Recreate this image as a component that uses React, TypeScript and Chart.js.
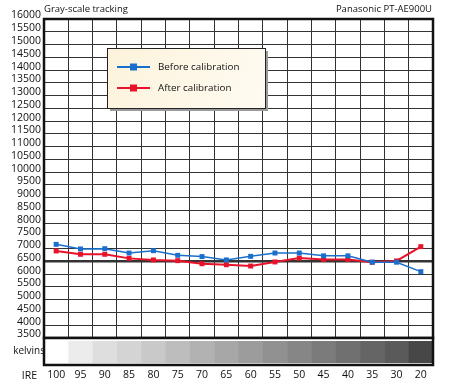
import React, { useEffect, useRef } from "react";
import { Chart, registerables } from "chart.js";
Chart.register(...registerables);

const categories = ["100", "95", "90", "85", "80", "75", "70", "65", "60", "55", "50", "45", "40", "35", "30", "20"];
const beforeValues = [7170, 6990, 7000, 6830, 6920, 6740, 6690, 6560, 6700, 6830, 6830, 6720, 6720, 6470, 6470, 6100];
const afterValues = [6910, 6780, 6780, 6620, 6560, 6530, 6410, 6370, 6320, 6480, 6630, 6580, 6580, 6470, 6520, 7080];
const yMin = 3500;
const yMax = 16000;
const yStep = 500;
const referenceValue = 6500;
const bandShades = ["#ffffff", "#ececec", "#dedede", "#d4d4d4", "#c9c9c9", "#bdbdbd", "#b2b2b2", "#a7a7a7", "#9c9c9c", "#919191", "#868686", "#7b7b7b", "#707070", "#656565", "#5a5a5a", "#474747"];
const titleLeft = "Gray-scale tracking";
const titleRight = "Panasonic PT-AE900U";
const bandLabel = "kelvins";
const axisLabel = "IRE";

const FONT = "'Open Sans', 'Liberation Sans', sans-serif";

const decorPlugin = {
  id: "decor",
  afterDraw(chart: any) {
    const { ctx, chartArea } = chart;
    const { left, right, top, bottom } = chartArea;
    ctx.save();
    ctx.strokeStyle = "#111";
    ctx.lineWidth = 2.5;
    ctx.strokeRect(left, top, right - left, bottom - top);
    const bTop = bottom;
    const bBot = bottom + 27;
    const n = categories.length;
    const cw = (right - left) / n;
    ctx.fillStyle = "#fff";
    ctx.fillRect(left, bTop, right - left, bBot - bTop);
    for (let i = 0; i < n; i++) {
      ctx.fillStyle = bandShades[i];
      ctx.fillRect(left + i * cw, bTop + 3, cw + 0.5, bBot - bTop - 5);
    }
    ctx.strokeStyle = "#111";
    ctx.lineWidth = 2.5;
    ctx.strokeRect(left, bTop, right - left, bBot - bTop);
    ctx.fillStyle = "#111";
    ctx.font = `10px ${FONT}`;
    ctx.textBaseline = "middle";
    ctx.textAlign = "right";
    ctx.fillText(bandLabel, left + 1, (bTop + bBot) / 2);
    ctx.font = `10.5px ${FONT}`;
    ctx.fillText(axisLabel, 37, 376);
    ctx.font = `9.5px ${FONT}`;
    ctx.textAlign = "left";
    ctx.fillText(titleLeft, left, 9);
    ctx.textAlign = "right";
    ctx.fillText(titleRight, right - 1, 9);
    const lx = 107, ly = 48, lw = 158, lh = 60;
    ctx.fillStyle = "#9a9a9a";
    ctx.fillRect(lx + 3, ly + 3, lw, lh);
    const g = ctx.createLinearGradient(lx, ly, lx + lw, ly + lh);
    g.addColorStop(0, "#fdf3dc");
    g.addColorStop(1, "#fffbf2");
    ctx.fillStyle = g;
    ctx.fillRect(lx, ly, lw, lh);
    ctx.strokeStyle = "#222";
    ctx.lineWidth = 1;
    ctx.strokeRect(lx + 0.5, ly + 0.5, lw, lh);
    chart.data.datasets.forEach((ds: any, i: number) => {
      const yy = 67 + i * 21;
      ctx.strokeStyle = ds.borderColor;
      ctx.lineWidth = 2;
      ctx.beginPath();
      ctx.moveTo(117, yy);
      ctx.lineTo(150, yy);
      ctx.stroke();
      ctx.fillStyle = ds.backgroundColor;
      ctx.fillRect(130, yy - 3.5, 7, 7);
      ctx.fillStyle = "#111";
      ctx.textAlign = "left";
      ctx.font = `9.8px ${FONT}`;
      ctx.fillText(ds.label, 158, yy);
    });
    ctx.restore();
  },
};

export default function App() {
  const ref = useRef<HTMLCanvasElement | null>(null);
  useEffect(() => {
    document.body.style.margin = "0";
    const chart = new Chart(ref.current as HTMLCanvasElement, {
      type: "line",
      data: {
        labels: categories,
        datasets: [
          {
            label: "Before calibration",
            data: beforeValues,
            borderColor: "#1a6fcc",
            backgroundColor: "#1a6fcc",
            borderWidth: 1.5,
            pointStyle: "rect",
            pointRadius: 3.5,
            pointBorderWidth: 0,
          },
          {
            label: "After calibration",
            data: afterValues,
            borderColor: "#e8132b",
            backgroundColor: "#e8132b",
            borderWidth: 2,
            pointStyle: "rect",
            pointRadius: 3.5,
            pointBorderWidth: 0,
          },
        ],
      },
      options: {
        animation: false,
        responsive: false,
        layout: { padding: { top: 19, right: 17, left: 0, bottom: 0 } },
        plugins: { legend: { display: false }, tooltip: { enabled: false }, title: { display: false } },
        scales: {
          x: {
            type: "category",
            offset: true,
            grid: { offset: true, color: "#333", lineWidth: 1, drawTicks: true, tickLength: 29, tickColor: "rgba(0,0,0,0)" },
            border: { display: false },
            ticks: { color: "#111", font: { size: 10.5, family: FONT }, padding: 2, maxRotation: 0, autoSkip: false },
            afterFit(s: any) { s.height = 47; },
          },
          y: {
            min: yMin,
            max: yMax,
            grid: {
              color: "#333",
              lineWidth: (c: any) => (c.tick && c.tick.value === referenceValue ? 2.5 : 1),
              drawTicks: false,
            },
            border: { display: false },
            ticks: {
              stepSize: yStep,
              autoSkip: false,
              color: "#111",
              font: { size: 10.5, family: FONT },
              padding: 3,
              labelOffset: -3.5,
              callback: (v: any) => String(v),
            },
            afterFit(s: any) { s.width = 44; },
          },
        },
      },
      plugins: [decorPlugin],
    });
    return () => chart.destroy();
  }, []);
  return (
    <div style={{ position: "fixed", left: 0, top: 0, width: 450, height: 385, background: "#fff" }}>
      <canvas ref={ref} width={450} height={385} style={{ width: 450, height: 385 }} />
    </div>
  );
}
